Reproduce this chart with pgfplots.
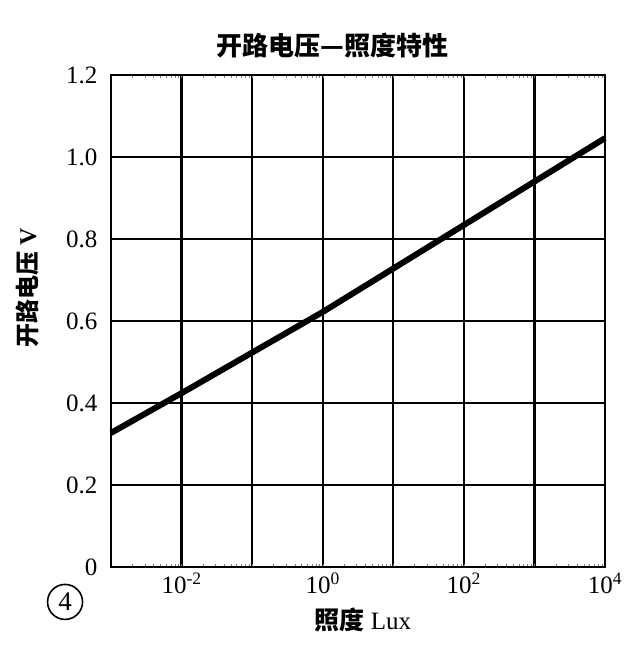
\documentclass[border=0pt]{standalone}
\usepackage{pgfplots}
\pgfplotsset{compat=1.18}
\usepackage{fontspec}
\setmainfont{Liberation Serif}
\newfontfamily\cjk{Noto Sans CJK SC}

\begin{document}
\begin{tikzpicture}
\useasboundingbox (-111pt,-93pt) rectangle (529pt,567pt);
\fill[white] (-111pt,-93pt) rectangle (529pt,567pt);
\begin{axis}[
  at={(0,0)}, anchor=south west,
  scale only axis,
  width=494pt, height=492pt,
  xmode=log,
  xmin=1e-3, xmax=1e4,
  ymin=0, ymax=1.2,
  xtick={1e-3,1e-2,1e-1,1e0,1e1,1e2,1e3,1e4},
  xticklabels={,10\textsuperscript{-2},,10\textsuperscript{0},,10\textsuperscript{2},,10\textsuperscript{4}},
  ytick={0,0.2,0.4,0.6,0.8,1.0,1.2},
  yticklabels={0,0.2,0.4,0.6,0.8,1.0,1.2},
  minor xtick={},
  major tick length=0pt,
  grid=major,
  major grid style={black, line width=2.2pt},
  axis line style={black, line width=2.8pt},
  tick label style={font=\fontsize{25}{27}\selectfont},
  yticklabel style={xshift=-10pt},
  xticklabel style={yshift=-2pt},
  title={\cjk\bfseries\fontsize{26}{28}\selectfont 开路电压—照度特性},
  title style={at={(axis description cs:0.449,1.047)}, anchor=center},
  xlabel={{\cjk\bfseries 照度} Lux},
  xlabel style={font=\fontsize{25}{27}\selectfont, at={(axis description cs:0.51,-0.108)}, anchor=center},
  ylabel={\bfseries{\cjk 开路电压} V},
  ylabel style={font=\fontsize{24}{26}\selectfont, at={(axis description cs:-0.170,0.567)}, anchor=center},
  clip=false,
]
% open-circuit voltage versus illuminance
\addplot[black, line width=6pt, line cap=butt] coordinates {
  (1e-3,0.327) (1e-2,0.424) (1e-1,0.523) (1e0,0.622)
  (1e1,0.728) (1e2,0.834) (1e3,0.940) (1e4,1.046)
};
\node[circle, draw=black, line width=1.6pt, minimum size=35pt, inner sep=0pt,
      font=\fontsize{27}{29}\selectfont]
  at (axis description cs:-0.093,-0.071) {4};
\end{axis}
\end{tikzpicture}
\end{document}
